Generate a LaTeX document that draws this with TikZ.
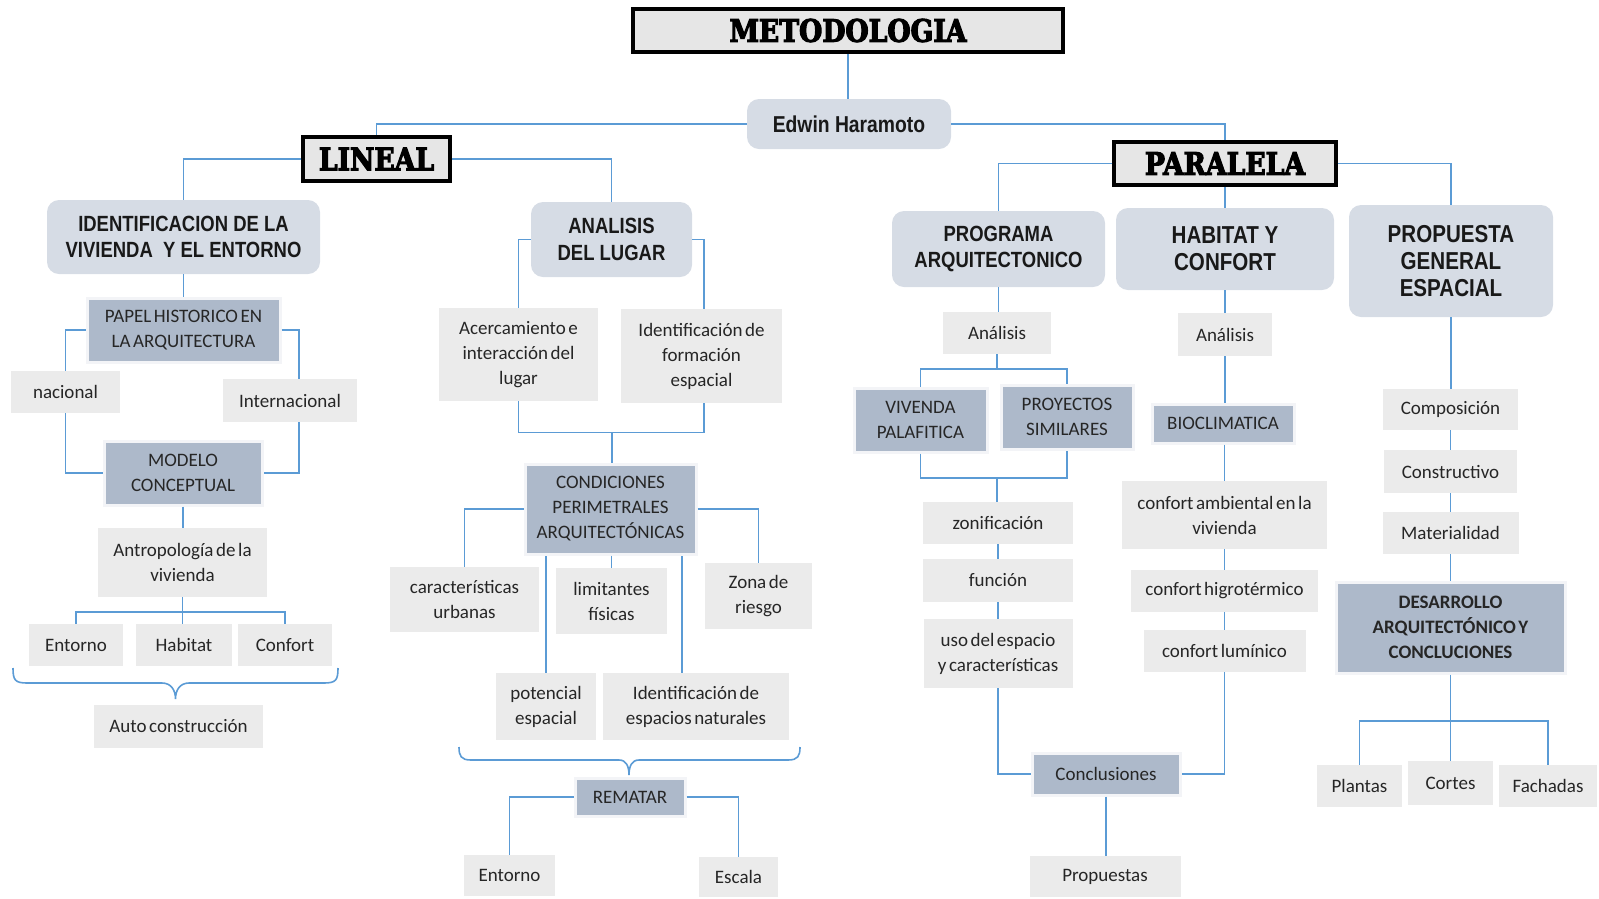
\documentclass[tikz,border=0pt]{standalone}
\usepackage{fontspec}
\setmainfont{Carlito}[WordSpace=0.6]
\newfontfamily\hfont[FakeStretch=0.84]{Liberation Sans}
\newfontfamily\tfont[FakeStretch=0.86,BoldFeatures={FakeBold=3.5}]{DejaVu Serif}
\definecolor{linec}{HTML}{5B9BD5}
\definecolor{hdrfill}{HTML}{D6DCE5}
\definecolor{darkfill}{HTML}{ADB9CA}
\definecolor{lightfill}{HTML}{EBEBEB}
\definecolor{titlefill}{HTML}{E6E6E6}
\definecolor{txt}{HTML}{262626}
\begin{document}
\begin{tikzpicture}[x=1pt,y=-1pt,
 conn/.style={draw=linec,line width=1.6pt},
 box/.style={inner sep=0pt,align=center,text=txt},
 titlebox/.style={box,draw=black,line width=3.5pt,fill=titlefill,font=\tfont\bfseries\fontsize{31}{31}\selectfont,text=black},
 hdr/.style={box,rounded corners=12pt,fill=hdrfill,font=\hfont\bfseries\fontsize{22}{26.5}\selectfont,text=black!90},
 hdrbig/.style={hdr,font=\hfont\bfseries\fontsize{24.5}{27}\selectfont},
 dbox/.style={box,fill=darkfill,draw=white!85!darkfill,line width=3pt,font=\fontsize{19}{25}\selectfont},
 lbox/.style={box,fill=lightfill,font=\fontsize{19}{25}\selectfont},
 sz/.style 2 args={minimum width=#1pt,minimum height=#2pt}
]
\useasboundingbox (0,0) rectangle (1599,898);

% ---- nodes: top
\node[titlebox,sz={430}{43}] (met) at (848,30.5) {METODOLOGIA};
\node[hdr,sz={204}{50},font=\hfont\bfseries\fontsize{23}{28}\selectfont] (edw) at (849,124) {Edwin Haramoto};
\node[titlebox,sz={147}{44}] (lin) at (376.5,159) {LINEAL};
\node[titlebox,sz={222}{43}] (par) at (1225,163.5) {PARALELA};

% ---- LINEAL branch
\node[hdr,sz={273}{74}] (ident) at (183.5,237) {IDENTIFICACION DE LA\\VIVIENDA \ Y EL ENTORNO};
\node[hdr,sz={161}{75}] (anal) at (611.5,239.5) {ANALISIS\\DEL LUGAR};
\node[dbox,sz={193}{64}] (papel) at (183.5,330) {PAPEL HISTORICO EN\\LA ARQUITECTURA};
\node[lbox,sz={109}{42}] (nac) at (65.5,392) {nacional};
\node[lbox,sz={134}{43}] (intl) at (290,400.5) {Internacional};
\node[dbox,sz={158}{64}] (mod) at (183,473) {MODELO\\CONCEPTUAL};
\node[lbox,sz={169}{69}] (antr) at (182.5,562.5) {Antropología de la\\vivienda};
\node[lbox,sz={94}{42}] (ent1) at (76,645) {Entorno};
\node[lbox,sz={96}{42}] (hab) at (184,645) {Habitat};
\node[lbox,sz={94}{42}] (conf) at (285,645) {Confort};
\node[lbox,sz={169}{43}] (auto) at (178.5,726.5) {Auto construcción};
\node[lbox,sz={159}{93}] (acer) at (518.5,354.5) {Acercamiento e\\interacción del\\lugar};
\node[lbox,sz={161}{94}] (idf) at (701.5,356) {Identificación de\\formación\\espacial};
\node[dbox,sz={171}{90}] (cond) at (610.5,509) {CONDICIONES\\PERIMETRALES\\ARQUITECTÓNICAS};
\node[lbox,sz={149}{65}] (car) at (464.5,599.5) {características\\urbanas};
\node[lbox,sz={111}{66}] (lim) at (611.5,601) {limitantes\\físicas};
\node[lbox,sz={107}{66}] (zona) at (758.5,596) {Zona de\\riesgo};
\node[lbox,sz={100}{67}] (pot) at (546,706.5) {potencial\\espacial};
\node[lbox,sz={186}{67}] (ide) at (696,706.5) {Identificación de\\espacios naturales};
\node[dbox,sz={110}{38}] (rem) at (630,797) {REMATAR};
\node[lbox,sz={91}{41}] (ent2) at (509.5,875.5) {Entorno};
\node[lbox,sz={79}{40}] (esc) at (738.5,877) {Escala};

% ---- PARALELA branch
\node[hdr,sz={213}{76}] (prog) at (998.5,249) {PROGRAMA\\ARQUITECTONICO};
\node[hdrbig,sz={218}{82}] (habc) at (1225,249) {HABITAT Y\\CONFORT};
\node[hdrbig,sz={204}{112}] (prop) at (1451,261) {PROPUESTA\\GENERAL\\ESPACIAL};
\node[lbox,sz={108}{42}] (an1) at (997,333) {Análisis};
\node[dbox,sz={133}{64}] (viv) at (920.5,420) {VIVENDA\\PALAFITICA};
\node[dbox,sz={132}{64}] (proy) at (1067,417) {PROYECTOS\\SIMILARES};
\node[lbox,sz={150}{42}] (zon) at (998,523) {zonificación};
\node[lbox,sz={150}{43}] (fun) at (998,580.5) {función};
\node[lbox,sz={149}{69}] (uso) at (998,653.5) {uso del espacio\\y características};
\node[dbox,sz={148}{42}] (concl) at (1106,774) {Conclusiones};
\node[lbox,sz={151}{41}] (props) at (1105,876.5) {Propuestas};
\node[lbox,sz={94}{43}] (an2) at (1225,334.5) {Análisis};
\node[dbox,sz={142}{39}] (bio) at (1223,423.5) {BIOCLIMATICA};
\node[lbox,sz={205}{68}] (camb) at (1224.5,515) {confort ambiental en la\\vivienda};
\node[lbox,sz={187}{42}] (chig) at (1224.5,591) {confort higrotérmico};
\node[lbox,sz={162}{42}] (clum) at (1224.5,651) {confort lumínico};
\node[lbox,sz={135}{41}] (comp) at (1450.5,409.5) {Composición};
\node[lbox,sz={133}{43}] (cons) at (1450.5,471.5) {Constructivo};
\node[lbox,sz={136}{42}] (mat) at (1450.5,533) {Materialidad};
\node[dbox,sz={229}{91},font=\bfseries\fontsize{19}{25}\selectfont] (des) at (1450.5,627.5) {DESARROLLO\\ARQUITECTÓNICO Y\\CONCLUCIONES};
\node[lbox,sz={85}{42}] (pla) at (1359.5,786) {Plantas};
\node[lbox,sz={85}{44}] (cor) at (1450.5,783) {Cortes};
\node[lbox,sz={98}{42}] (fac) at (1548,786) {Fachadas};

% ---- junction coordinates
\coordinate (j1) at (612,432.5);
\coordinate (j2) at (997,369);
\coordinate (j3) at (997,478);
\coordinate (j4) at (182.5,612);
\coordinate (j5) at (1450.5,721);

% ---- connectors: top
\draw[conn] (met.south) -- (met.south |- edw.north);
\draw[conn] (edw.west) -| (lin.north);
\draw[conn] (edw.east) -| (par.north);
\draw[conn] (lin.west) -| (ident.north);
\draw[conn] (lin.east) -| (anal.north);

% ---- LINEAL connectors
\draw[conn] (ident.south) -- (papel.north);
\draw[conn] (papel.west) -| (nac.north);
\draw[conn] (nac.south) |- (mod.west);
\draw[conn] (papel.east) -| ([xshift=9pt]intl.north);
\draw[conn] ([xshift=9pt]intl.south) |- (mod.east);
\draw[conn] (mod.south) -- (mod.south |- antr.north);
\draw[conn] (antr.south) -- (j4);
\draw[conn] (ent1.north) |- (j4) -| (conf.north);
\draw[conn] (j4) -- (j4 |- hab.north);
\draw[conn] (13,668) .. controls (13,680) and (15,683) .. (27,683) -- (162,683)
  .. controls (171,683) and (175.5,690) .. (175.5,699)
  .. controls (175.5,690) and (180,683) .. (189,683) -- (324,683)
  .. controls (336,683) and (338,680) .. (338,668);
\draw[conn] (anal.west) -| (acer.north);
\draw[conn] (anal.east) -| ([xshift=2.5pt]idf.north);
\draw[conn] (acer.south) |- (j1) -| ([xshift=2.5pt]idf.south);
\draw[conn] (j1) -- (j1 |- cond.north);
\draw[conn] (cond.west) -| (car.north);
\draw[conn] (cond.east) -| (zona.north);
\draw[conn] (cond.south -| lim.north) -- (lim.north);
\draw[conn] (pot.north) -- (pot.north |- cond.south);
\draw[conn] ([xshift=-14pt]ide.north) -- ([xshift=-14pt]ide.north |- cond.south);
\draw[conn] (459,747) .. controls (459,756) and (461,760) .. (471,760) -- (619,760)
  .. controls (626,760) and (629,766) .. (629,775)
  .. controls (629,766) and (632,760) .. (639,760) -- (788,760)
  .. controls (798,760) and (800,756) .. (800,747);
\draw[conn] (rem.west) -| (ent2.north);
\draw[conn] (rem.east) -| (esc.north);

% ---- PARALELA connectors
\draw[conn] (par.west) -| (prog.north);
\draw[conn] (par.south) -- (habc.north);
\draw[conn] (par.east) -| (prop.north);
\draw[conn] (prog.south) -- (prog.south |- an1.north);
\draw[conn] (an1.south) -- (j2);
\draw[conn] (viv.north) |- (j2) -| (proy.north);
\draw[conn] (viv.south) |- (j3) -| (proy.south);
\draw[conn] (j3) -- (j3 |- zon.north);
\draw[conn] (zon.south) -- (fun.north);
\draw[conn] (fun.south) -- (uso.north);
\draw[conn] (uso.south) |- (concl.west);
\draw[conn] (clum.south) |- (concl.east);
\draw[conn] (concl.south) -- (concl.south |- props.north);
\draw[conn] (habc.south) -- (an2.north);
\draw[conn] (an2.south) -- (an2.south |- bio.north);
\draw[conn] (bio.south -| camb.north) -- (camb.north);
\draw[conn] (camb.south) -- (chig.north);
\draw[conn] (chig.south) -- (clum.north);
\draw[conn] (prop.south) -- (prop.south |- comp.north);
\draw[conn] (comp.south) -- (cons.north);
\draw[conn] (cons.south) -- (mat.north);
\draw[conn] (mat.south) -- (des.north);
\draw[conn] (des.south) -- (j5);
\draw[conn] (pla.north) |- (j5) -| (fac.north);
\draw[conn] (j5) -- (cor.north);
\end{tikzpicture}
\end{document}
